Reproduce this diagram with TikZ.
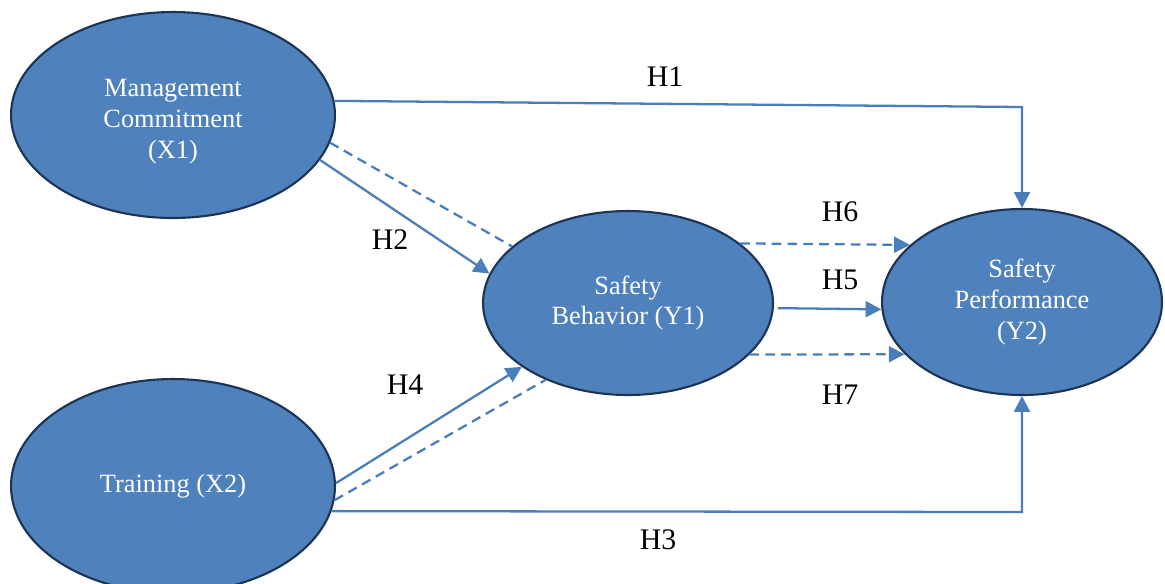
\documentclass[tikz,border=0pt]{standalone}
\usepackage{fontspec}
\setmainfont{Liberation Serif}
\usetikzlibrary{shapes.geometric,arrows.meta}
\definecolor{fillblue}{HTML}{4F81BD}
\definecolor{edgeblue}{HTML}{1C3454}
\definecolor{lineblue}{HTML}{4A7EBB}
\tikzset{
  construct/.style={ellipse, draw=edgeblue, line width=1.2pt, fill=fillblue, inner sep=0pt,
    text=white, align=center, font=\fontsize{15}{17.6}\selectfont},
  link/.style={draw=lineblue, line width=1.3pt},
  arr/.style={link, -{Triangle[length=9pt,width=9pt]}},
  dsh/.style={link, dash pattern=on 5.5pt off 3.5pt},
  hlabel/.style={font=\fontsize{17}{20}\selectfont, inner sep=0pt}
}
\begin{document}
\begin{tikzpicture}[x=0.02cm,y=-0.02cm]
\useasboundingbox (0,0) rectangle (1165,583);
\fill[white] (0,0) rectangle (1165,583);
\node[construct, minimum width=6.48cm, minimum height=4.12cm] (x1) at (173,115) {\rule{0pt}{17.5pt}Management\\Commitment\\(X1)};
\node[construct, minimum width=6.48cm, minimum height=4.28cm] (x2) at (173,486) {Training (X2)};
\node[construct, minimum width=5.8cm, minimum height=3.68cm] (y1) at (628,303) {Safety\\Behavior (Y1)};
\node[construct, minimum width=5.6cm, minimum height=3.72cm] (y2) at (1022,302) {Safety\\Performance\\(Y2)};
\coordinate (c1) at (1022,107);
\coordinate (c3) at (1022,512);
% H1
\draw[arr] (x1.5) -- (c1) -- (y2.north);
% H3
\draw[arr] (x2.-9) -- (c3) -- (y2.south);
% H2
\draw[arr] (x1.-17) -- (y1.168);
\draw[dsh] (x1.-10.5) -- (y1.154);
% H4
\draw[arr] (x2.1) -- (y1.211);
\draw[dsh] (x2.-5) -- (y1.223);
% H6, H5, H7
\draw[arr, dsh] (y1.28) -- (y2.153);
\draw[arr, shorten <=0.08cm] (y1.-2) -- (y2.183);
\draw[arr, dsh] (y1.-23) -- (y2.204);
% labels
\node[hlabel] (h1) at (665,77) {H1};
\node[hlabel] (h2) at (390,240) {H2};
\node[hlabel] (h4) at (405,385) {H4};
\node[hlabel] (h6) at (840,212) {H6};
\node[hlabel] (h5) at (840,280) {H5};
\node[hlabel] (h7) at (840,395) {H7};
\node[hlabel] (h3) at (658,540) {H3};
\end{tikzpicture}
\end{document}
